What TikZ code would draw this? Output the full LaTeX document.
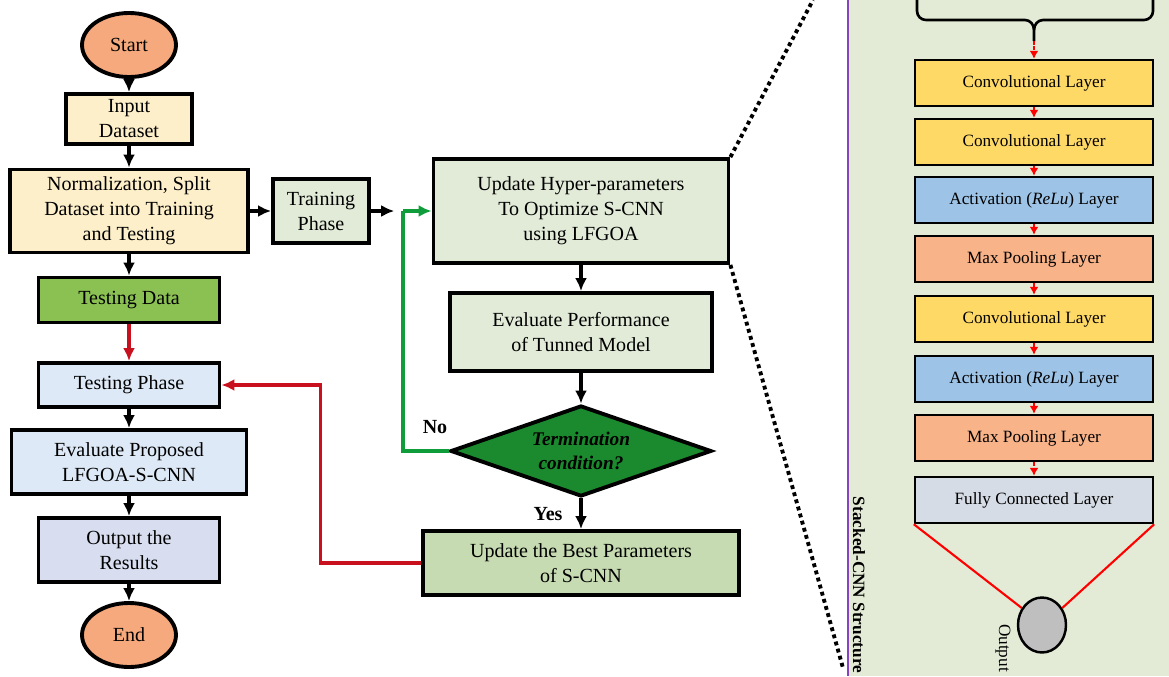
\documentclass[tikz,border=0pt]{standalone}
\usepackage{fontspec}
\setmainfont{Liberation Serif}
\usepackage{tikz}
\usepackage{xcolor}
\usetikzlibrary{shapes.geometric,arrows.meta}

\definecolor{termfill}{HTML}{F6A97C}
\definecolor{creamfill}{HTML}{FDEFC9}
\definecolor{sagefill}{HTML}{E2EBD8}
\definecolor{bestfill}{HTML}{C6DBB1}
\definecolor{datafill}{HTML}{8BC152}
\definecolor{bluefill}{HTML}{DDE9F6}
\definecolor{lavfill}{HTML}{D8DEF0}
\definecolor{condfill}{HTML}{1B8A2E}
\definecolor{loopgreen}{HTML}{0F9D3C}
\definecolor{backred}{HTML}{C8101E}
\definecolor{panelbg}{HTML}{E3EBD6}
\definecolor{panelline}{HTML}{8446C0}
\definecolor{convfill}{HTML}{FFD966}
\definecolor{actfill}{HTML}{9DC3E6}
\definecolor{poolfill}{HTML}{F8B389}
\definecolor{fcfill}{HTML}{D6DCE5}

\begin{document}
\begin{tikzpicture}
  [x=0.02cm,y=-0.02cm,
   every node/.style={align=center,inner sep=1pt,text=black,
     font=\fontsize{11.4}{14.2}\selectfont},
   box/.style={rectangle,draw=black,line width=2.2pt},
   term/.style={ellipse,draw=black,line width=2.2pt,fill=termfill,
     minimum width=1.88cm,minimum height=1.28cm},
   layer/.style={rectangle,draw=black,line width=1.4pt,minimum width=4.76cm,
     minimum height=0.92cm,font=\fontsize{9.8}{12}\selectfont},
   arr/.style={draw=black,line width=1.8pt,-{Latex[length=2.6mm,width=2.4mm]}},
   redarr/.style={draw=backred,line width=1.8pt,-{Latex[length=2.6mm,width=2.4mm]}},
   greenline/.style={draw=loopgreen,line width=1.8pt},
   layerarr/.style={draw=red,line width=0.9pt,dash pattern=on 2pt off 1pt,
     -{Latex[length=1.6mm,width=1.8mm]}},
   zoomline/.style={draw=black,line width=2.2pt,dash pattern=on 2.2pt off 2pt}]

  \useasboundingbox (0,0) rectangle (1169,676);

  % right panel
  \fill[panelbg] (848,0) rectangle (1169,676);
  \draw[panelline,line width=1.6pt] (848,0) -- (848,676);

  % main flow
  \node[term] (start) at (129,45) {Start};
  \node[box,fill=creamfill,minimum width=2.52cm,minimum height=1cm] (input) at (129,119) {Input\\Dataset};
  \node[box,fill=creamfill,minimum width=4.76cm,minimum height=1.66cm] (norm) at (129,211) {Normalization, Split\\Dataset into Training\\and Testing};
  \node[box,fill=sagefill,minimum width=1.92cm,minimum height=1.28cm] (train) at (321,211) {Training\\Phase};
  \node[box,fill=datafill,minimum width=3.62cm,minimum height=0.9cm] (tdata) at (129,300) {Testing Data};
  \node[box,fill=bluefill,minimum width=3.62cm,minimum height=0.88cm] (tphase) at (129,385) {Testing Phase};
  \node[box,fill=bluefill,minimum width=4.7cm,minimum height=1.28cm] (evalprop) at (129,462) {Evaluate Proposed\\LFGOA-S-CNN};
  \node[box,fill=lavfill,minimum width=3.62cm,minimum height=1.28cm] (result) at (129,550) {Output the\\Results};
  \node[term] (end) at (129,635) {End};

  \node[box,fill=sagefill,minimum width=5.9cm,minimum height=2.08cm] (hyper) at (581,211) {Update Hyper-parameters\\To Optimize S-CNN\\using LFGOA};
  \node[box,fill=sagefill,minimum width=5.24cm,minimum height=1.56cm] (evalperf) at (581,332) {Evaluate Performance\\of Tunned Model};
  \node[diamond,draw=black,line width=2.2pt,fill=condfill,aspect=2.87,inner sep=0pt,
    minimum width=5.22cm,minimum height=1.82cm,font=\fontsize{11}{13.6}\selectfont\bfseries\itshape] (cond) at (581,451) {Termination\\condition?};
  \node[box,fill=bestfill,minimum width=6.32cm,minimum height=1.28cm] (best) at (581,563) {Update the Best Parameters\\of S-CNN};

  \node[font=\fontsize{11.4}{13}\selectfont\bfseries] (nolbl) at (435,427) {No};
  \node[font=\fontsize{11.4}{13}\selectfont\bfseries] (yeslbl) at (548,514) {Yes};

  \coordinate (jn) at (403,211);

  \foreach \from/\to in {start/input,input/norm,norm/tdata,norm/train,
    tphase/evalprop,evalprop/result,result/end,hyper/evalperf,evalperf/cond,cond/best}
    \draw[arr] (\from) -- (\to);

  \draw[arr] (train) -- ([xshift=-5]jn);
  \draw[greenline,-{Latex[length=2.6mm,width=2.4mm]}] (jn) -- (hyper);
  \draw[greenline] (cond.west) -| (jn);
  \draw[redarr] (tdata) -- (tphase);
  \draw[redarr] (best.west) -- ++(-101,0) |- (tphase.east);

  % zoom lines to the S-CNN panel
  \coordinate (ztop) at (813,0);
  \coordinate (zbot) at (843,668);
  \draw[zoomline] (hyper.north east) -- (ztop);
  \draw[zoomline] (hyper.south east) -- (zbot);

  % stacked CNN
  \node[layer,fill=convfill] (c1) at (1034,83) {Convolutional Layer};
  \node[layer,fill=convfill] (c2) at (1034,142) {Convolutional Layer};
  \node[layer,fill=actfill] (a1) at (1034,200) {Activation (\textit{ReLu}) Layer};
  \node[layer,fill=poolfill] (p1) at (1034,259) {Max Pooling Layer};
  \node[layer,fill=convfill] (c3) at (1034,319) {Convolutional Layer};
  \node[layer,fill=actfill] (a2) at (1034,379) {Activation (\textit{ReLu}) Layer};
  \node[layer,fill=poolfill] (p2) at (1034,438) {Max Pooling Layer};
  \node[layer,fill=fcfill] (fc) at (1034,500) {Fully Connected Layer};
  \node[ellipse,draw=black,line width=1.4pt,fill=black!25,minimum width=0.96cm,minimum height=1.1cm] (out) at (1042,625) {};

  \node[rotate=-90,font=\fontsize{9.8}{12}\selectfont] (outlbl) at (1003,648) {Output};
  \node[rotate=-90,font=\fontsize{9.8}{12}\selectfont\bfseries] (stack) at (859,585) {Stacked-CNN Structure};

  % brace on top
  \coordinate (btip) at (1034,41);
  \draw[line width=1.5pt] (917,-5) -- (917,11) to[out=-90,in=180] (926,20) -- (1025,20)
    to[out=0,in=90] (1034,30) -- (btip);
  \draw[line width=1.5pt] (1153,-5) -- (1153,11) to[out=-90,in=0] (1144,20) -- (1043,20)
    to[out=180,in=90] (1034,30);

  \draw[layerarr] (btip) -- (c1);
  \foreach \from/\to in {c1/c2,c2/a1,a1/p1,p1/c3,c3/a2,a2/p2,p2/fc}
    \draw[layerarr] (\from) -- (\to);

  \draw[red,line width=1.2pt] (fc.south west) -- (out.140);
  \draw[red,line width=1.2pt] (fc.south east) -- (out.40);
\end{tikzpicture}
\end{document}
